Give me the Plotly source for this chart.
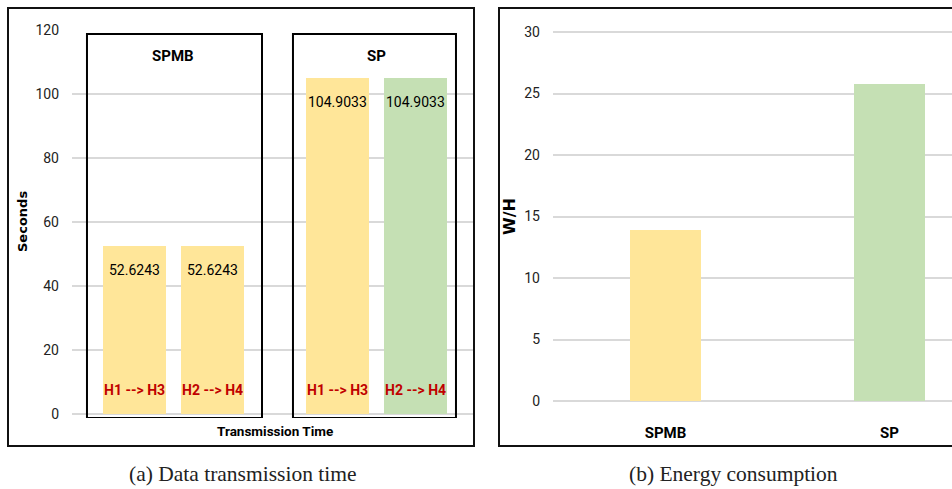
import plotly.graph_objects as go

# ---- data -------------------------------------------------------------
groups = ["SPMB", "SP"]
routes = ["H1 --> H3", "H2 --> H4"]
transmission_time = {            # seconds, per group and route
    "SPMB": [52.6243, 52.6243],
    "SP": [104.9033, 104.9033],
}
route_colors = {
    "SPMB": ["#FFE699", "#FFE699"],
    "SP": ["#FFE699", "#C5E0B4"],
}

energy_categories = ["SPMB", "SP"]
energy_values = [13.9, 25.8]     # W/H
energy_colors = ["#FFE699", "#C5E0B4"]

seconds_ticks = [0, 20, 40, 60, 80, 100, 120]
wh_ticks = [0, 5, 10, 15, 20, 25, 30]

# ---- styling ------------------------------------------------------------
W, H = 952, 489
SANS = "Roboto, sans-serif"
SERIF = "Liberation Serif, DejaVu Serif, serif"
GRID = "#D9D9D9"
RED = "#C00000"
GROUP_GAP = 2.603                # spacing between the two groups, in bar slots
BAR_W = 0.81


def px(x):
    return x / W


def py(y):
    return 1 - y / H


def label(x, y, text, size, family=SANS, color="black", angle=0):
    """Centered paper-space text."""
    return dict(x=px(x), y=py(y), xref="paper", yref="paper", text=text,
                xanchor="center", yanchor="middle", textangle=angle, showarrow=False,
                font=dict(family=family, size=size, color=color))


fig = go.Figure()

# ---- (a) transmission time --------------------------------------------
xs, ys, cols = [], [], []
for g, name in enumerate(groups):
    for i, v in enumerate(transmission_time[name]):
        xs.append(g * GROUP_GAP + i)
        ys.append(v)
        cols.append(route_colors[name][i])

fig.add_trace(go.Bar(x=xs, y=ys, width=BAR_W, marker=dict(color=cols, line=dict(width=0)),
                     xaxis="x", yaxis="y", showlegend=False, hoverinfo="skip"))

annotations = []
shapes = []
box_pad = {"SPMB": (-0.609, 1.635), "SP": (2.032, 4.122)}
for g, name in enumerate(groups):
    pos = [g * GROUP_GAP + i for i in range(len(routes))]
    annotations.append(dict(x=sum(pos) / len(pos), y=111.9, xref="x", yref="y",
                            xanchor="center", yanchor="middle",
                            text=f"<b>{name}</b>", showarrow=False,
                            font=dict(family=SANS, size=15, color="black")))
    for i, p in enumerate(pos):
        v = transmission_time[name][i]
        annotations.append(dict(x=p, y=v, xref="x", yref="y", xanchor="center",
                                yanchor="top", yshift=-14,
                                text=f"{v:.4f}", showarrow=False,
                                font=dict(family=SANS, size=14, color="black")))
        annotations.append(dict(x=p, y=0, xref="x", yref="y", xanchor="center",
                                yanchor="bottom", yshift=14,
                                text=f"<b>{routes[i]}</b>", showarrow=False,
                                font=dict(family=SANS, size=14, color=RED)))
    x0, x1 = box_pad[name]
    shapes.append(dict(type="rect", xref="x", yref="y", x0=x0, x1=x1, y0=-1.25, y1=118.75,
                       line=dict(color="black", width=2), layer="above"))

# ---- (b) energy consumption --------------------------------------------
fig.add_trace(go.Bar(x=list(range(len(energy_categories))), y=energy_values, width=0.317,
                     marker=dict(color=energy_colors, line=dict(width=0)),
                     xaxis="x2", yaxis="y2", showlegend=False, hoverinfo="skip"))

# ---- panel frames --------------------------------------------------------
shapes.append(dict(type="rect", xref="paper", yref="paper", x0=px(8), x1=px(474),
                   y0=py(446), y1=py(8), line=dict(color="#111", width=2)))
shapes.append(dict(type="rect", xref="paper", yref="paper", x0=px(499), x1=px(960),
                   y0=py(446), y1=py(8), line=dict(color="#111", width=2)))

# ---- axis titles and captions ---------------------------------------------
annotations += [
    label(22, 222, "<b>Seconds</b>", 13, family="DejaVu Sans", angle=-90),
    label(275, 431, "<b>Transmission Time</b>", 13.5),
    label(510, 217, "<b>W/H</b>", 16, family="DejaVu Sans", angle=-90),
    label(242, 474, "(a) Data transmission time", 21.5, family=SERIF, color="#222"),
    label(733, 474, "(b) Energy consumption", 21.5, family=SERIF, color="#222"),
]

tick_font = dict(family=SANS, size=14, color="#222")

fig.update_layout(
    width=W, height=H,
    margin=dict(l=0, r=0, t=0, b=0, autoexpand=False),
    paper_bgcolor="white", plot_bgcolor="white",
    bargap=0,
    shapes=shapes, annotations=annotations,
    xaxis=dict(domain=[px(72), px(474)], range=[-0.801, 4.353], showticklabels=False,
               showgrid=False, zeroline=False, ticks="", fixedrange=True),
    yaxis=dict(domain=[py(418), py(29)], range=[-1.25, 120.31], tickvals=seconds_ticks,
               showgrid=True, gridcolor=GRID, gridwidth=1.5, zeroline=False, ticks="",
               tickfont=tick_font, ticklabelstandoff=12, anchor="x"),
    xaxis2=dict(domain=[px(553), 1], range=[-0.502, 1.279], tickvals=[0, 1],
                ticktext=energy_categories, showgrid=False, zeroline=False, ticks="",
                tickfont=dict(family=SANS, size=15, color="black", weight="bold"),
                ticklabelstandoff=12, anchor="y2"),
    yaxis2=dict(domain=[py(410), py(28)], range=[-0.732, 30.33], tickvals=wh_ticks,
                showgrid=True, gridcolor=GRID, gridwidth=1.5, zeroline=False, ticks="",
                tickfont=tick_font, ticklabelstandoff=12, anchor="x2"),
)

fig.write_html("out.html")
